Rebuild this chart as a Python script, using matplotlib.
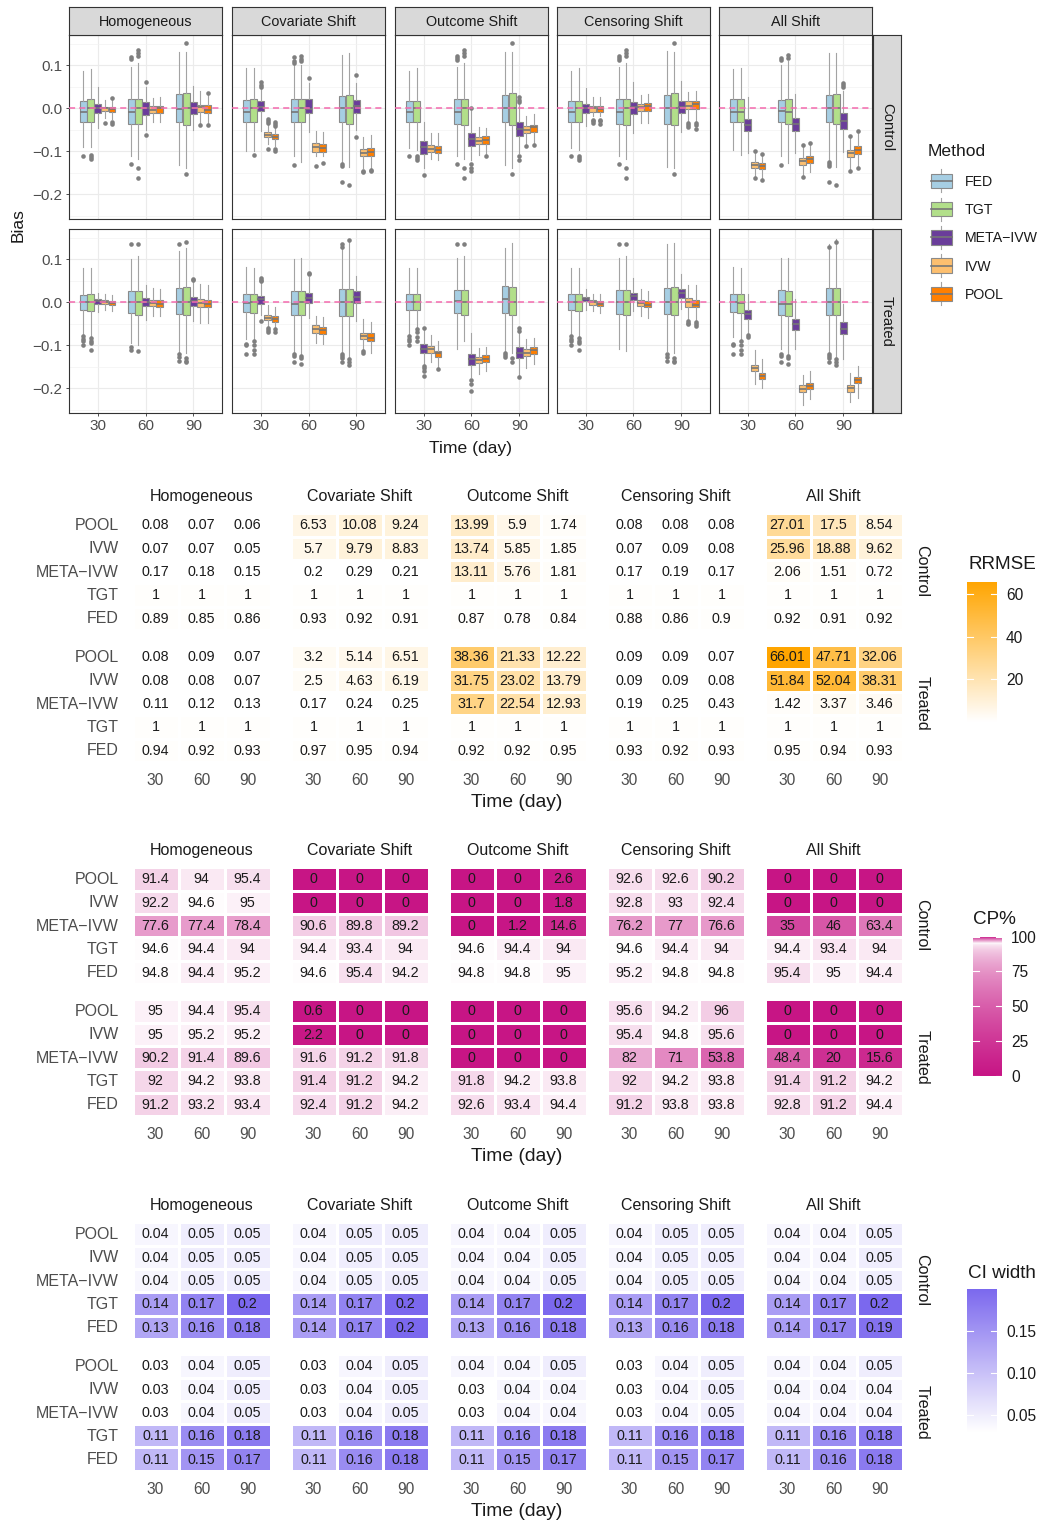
import numpy as np
import matplotlib
matplotlib.use("Agg")
import matplotlib.pyplot as plt
from matplotlib.colors import LinearSegmentedColormap, Normalize, to_rgb
from matplotlib.patches import Rectangle

plt.rcParams['font.family'] = ['Liberation Sans', 'DejaVu Sans']

# ---------------- categories ----------------
shifts = ["Homogeneous", "Covariate Shift", "Outcome Shift", "Censoring Shift", "All Shift"]
times = [30, 60, 90]
box_methods = ["FED", "TGT", "META\u2212IVW", "IVW", "POOL"]
heat_methods = ["POOL", "IVW", "META\u2212IVW", "TGT", "FED"]
groups = ["Control", "Treated"]

# ---------------- bias boxplot summaries: [time][method] -> (q1, median, q3, whisker_lo, whisker_hi)
bias_ctrl_homog = [
    [(-0.031, -0.008, 0.017, -0.091, 0.088), (-0.033, 0.0, 0.022, -0.090, 0.091), (-0.012, 0.0, 0.009, -0.046, 0.049), (-0.006, 0.0, 0.004, -0.022, 0.020), (-0.008, -0.002, 0.004, -0.025, 0.020)],
    [(-0.036, -0.008, 0.022, -0.112, 0.097), (-0.037, 0.0, 0.022, -0.119, 0.105), (-0.016, 0.0, 0.014, -0.050, 0.049), (-0.012, -0.004, 0.005, -0.033, 0.025), (-0.012, 0.0, 0.005, -0.033, 0.027)],
    [(-0.033, -0.002, 0.033, -0.133, 0.132), (-0.040, 0.0, 0.035, -0.140, 0.132), (-0.014, 0.0, 0.015, -0.050, 0.053), (-0.009, 0.002, 0.007, -0.036, 0.041), (-0.010, -0.005, 0.007, -0.036, 0.033)],
]
fl_ctrl_homog = [
    [[-0.111], [-0.108, -0.113, -0.118], [], [-0.034], [0.025, -0.033, -0.037]],
    [[0.114, 0.120, -0.129], [0.122, 0.130, 0.136, -0.140, -0.162], [0.062, -0.062], [], []],
    [[], [0.153, -0.152], [], [-0.038], [0.036, -0.038]],
]
bias_ctrl_cov = [
    [(-0.031, -0.008, 0.019, -0.100, 0.093), (-0.033, 0.0, 0.021, -0.100, 0.093), (-0.006, 0.004, 0.018, -0.052, 0.045), (-0.067, -0.062, -0.056, -0.083, -0.040), (-0.072, -0.066, -0.060, -0.088, -0.045)],
    [(-0.033, -0.008, 0.021, -0.110, 0.100), (-0.033, 0.0, 0.021, -0.126, 0.100), (-0.012, -0.002, 0.021, -0.054, 0.060), (-0.101, -0.091, -0.081, -0.112, -0.052), (-0.101, -0.092, -0.084, -0.112, -0.054)],
    [(-0.033, 0.0, 0.029, -0.124, 0.124), (-0.036, 0.0, 0.032, -0.136, 0.128), (-0.012, 0.005, 0.020, -0.050, 0.060), (-0.112, -0.103, -0.094, -0.140, -0.066), (-0.112, -0.102, -0.092, -0.140, -0.062)],
]
fl_ctrl_cov = [
    [[], [-0.109], [0.049, 0.055, 0.062], [-0.025, -0.030, -0.035, -0.095], [-0.033, -0.037, -0.041, -0.094, -0.100]],
    [[0.106, 0.110, 0.120, -0.132], [0.110, 0.116, 0.121], [0.070], [-0.134], [-0.128]],
    [[-0.130, -0.135, -0.171], [-0.178], [0.078, -0.066], [-0.145, -0.148], [-0.143, -0.147]],
]
bias_ctrl_out = [
    [(-0.033, -0.008, 0.017, -0.093, 0.088), (-0.033, 0.0, 0.017, -0.097, 0.093), (-0.106, -0.091, -0.076, -0.140, -0.031), (-0.102, -0.094, -0.085, -0.119, -0.058), (-0.105, -0.096, -0.088, -0.120, -0.058)],
    [(-0.036, -0.008, 0.022, -0.112, 0.097), (-0.038, 0.0, 0.022, -0.119, 0.105), (-0.087, -0.072, -0.057, -0.120, -0.005), (-0.084, -0.075, -0.066, -0.109, -0.043), (-0.083, -0.074, -0.064, -0.109, -0.045)],
    [(-0.033, 0.0, 0.031, -0.133, 0.132), (-0.040, 0.0, 0.035, -0.140, 0.132), (-0.064, -0.048, -0.033, -0.105, 0.010), (-0.058, -0.050, -0.041, -0.085, -0.019), (-0.056, -0.044, -0.039, -0.081, -0.013)],
]
fl_ctrl_out = [
    [[-0.110], [-0.110, -0.115, -0.120], [-0.155], [], []],
    [[0.113, 0.118, 0.122, -0.130], [0.122, 0.130, 0.136, -0.140, -0.162], [0.0, -0.130, -0.138, -0.145], [], [-0.112]],
    [[], [0.153, -0.152], [0.015, 0.020, 0.026, -0.110, -0.120], [-0.088], [-0.085]],
]
bias_ctrl_cens = [
    [(-0.032, -0.008, 0.017, -0.093, 0.088), (-0.032, 0.0, 0.017, -0.097, 0.093), (-0.012, 0.0, 0.010, -0.041, 0.047), (-0.009, 0.0, 0.005, -0.019, 0.026), (-0.009, -0.002, 0.005, -0.019, 0.026)],
    [(-0.036, -0.008, 0.022, -0.112, 0.097), (-0.038, 0.0, 0.022, -0.119, 0.105), (-0.013, 0.004, 0.014, -0.057, 0.062), (-0.006, 0.002, 0.010, -0.035, 0.031), (-0.006, 0.005, 0.012, -0.035, 0.033)],
    [(-0.036, 0.0, 0.031, -0.136, 0.134), (-0.040, 0.0, 0.035, -0.140, 0.132), (-0.012, 0.002, 0.016, -0.056, 0.064), (-0.002, 0.005, 0.016, -0.030, 0.039), (-0.002, 0.010, 0.017, -0.030, 0.041)],
]
fl_ctrl_cens = [
    [[-0.110], [-0.110, -0.115, -0.120], [], [-0.027, -0.030, -0.035], [-0.027, -0.030, -0.036]],
    [[0.113, 0.118, 0.122, -0.130], [0.122, 0.130, 0.136, -0.140, -0.162], [], [], []],
    [[], [0.153, -0.152], [], [-0.035, -0.038, -0.043], [-0.035, -0.040, -0.047]],
]
bias_ctrl_all = [
    [(-0.031, -0.008, 0.021, -0.098, 0.091), (-0.033, -0.008, 0.021, -0.109, 0.093), (-0.053, -0.039, -0.025, -0.105, 0.026), (-0.138, -0.132, -0.126, -0.158, -0.105), (-0.141, -0.134, -0.128, -0.163, -0.108)],
    [(-0.033, -0.006, 0.019, -0.111, 0.100), (-0.036, -0.008, 0.022, -0.128, 0.110), (-0.053, -0.037, -0.022, -0.103, 0.033), (-0.132, -0.123, -0.115, -0.155, -0.090), (-0.128, -0.119, -0.110, -0.149, -0.085)],
    [(-0.033, 0.0, 0.031, -0.120, 0.128), (-0.036, 0.0, 0.033, -0.136, 0.128), (-0.047, -0.029, -0.012, -0.101, 0.040), (-0.114, -0.105, -0.097, -0.143, -0.066), (-0.106, -0.096, -0.087, -0.137, -0.058)],
]
fl_ctrl_all = [
    [[], [], [], [-0.100, -0.163], [-0.106, -0.167]],
    [[0.112, 0.118, -0.132], [0.118, 0.124], [], [-0.085, -0.160], [-0.081]],
    [[-0.125, -0.130, -0.135, -0.171], [-0.178], [0.050, 0.055, 0.060], [-0.064, -0.146], [-0.053, -0.140]],
]

bias_trt_homog = [
    [(-0.019, 0.0, 0.017, -0.074, 0.081), (-0.020, 0.0, 0.019, -0.078, 0.081), (-0.005, 0.002, 0.008, -0.022, 0.022), (-0.005, 0.0, 0.005, -0.019, 0.019), (-0.007, -0.002, 0.003, -0.020, 0.017)],
    [(-0.026, 0.0, 0.026, -0.094, 0.102), (-0.029, 0.0, 0.026, -0.099, 0.109), (-0.009, 0.0, 0.009, -0.041, 0.040), (-0.009, -0.002, 0.005, -0.033, 0.034), (-0.010, -0.005, 0.005, -0.033, 0.032)],
    [(-0.028, 0.0, 0.034, -0.117, 0.119), (-0.029, 0.0, 0.036, -0.117, 0.127), (-0.009, 0.004, 0.012, -0.043, 0.050), (-0.010, -0.002, 0.007, -0.047, 0.042), (-0.011, -0.005, 0.005, -0.048, 0.040)],
]
fl_trt_homog = [
    [[-0.078, -0.085, -0.090, -0.100], [-0.083, -0.090, -0.095, -0.110], [], [], []],
    [[0.135, -0.105, -0.110], [0.136, -0.113], [], [], []],
    [[0.136, -0.121, -0.128, -0.136], [0.141, -0.130, -0.136, -0.140], [0.052, 0.055], [], []],
]
bias_trt_cov = [
    [(-0.022, -0.002, 0.019, -0.086, 0.083), (-0.024, 0.0, 0.020, -0.086, 0.081), (-0.005, 0.007, 0.015, -0.029, 0.045), (-0.041, -0.036, -0.029, -0.055, -0.006), (-0.045, -0.039, -0.033, -0.060, -0.010)],
    [(-0.029, -0.003, 0.026, -0.117, 0.100), (-0.029, 0.0, 0.026, -0.120, 0.104), (-0.001, 0.011, 0.022, -0.036, 0.060), (-0.071, -0.061, -0.053, -0.094, -0.032), (-0.073, -0.065, -0.057, -0.097, -0.035)],
    [(-0.032, 0.0, 0.032, -0.117, 0.127), (-0.032, 0.0, 0.032, -0.129, 0.140), (-0.002, 0.012, 0.026, -0.043, 0.061), (-0.086, -0.078, -0.071, -0.110, -0.038), (-0.090, -0.082, -0.072, -0.117, -0.045)],
]
fl_trt_cov = [
    [[-0.096, -0.100, -0.120], [-0.090, -0.100, -0.110, -0.120], [0.050, 0.053, 0.057, -0.043], [-0.059, -0.064, -0.068], [-0.063, -0.068]],
    [[-0.120, -0.125, -0.140], [-0.125, -0.130, -0.143], [0.065, 0.068], [], []],
    [[0.130, 0.135, -0.120, -0.125, -0.130, -0.140], [0.145, -0.133, -0.138, -0.145], [], [-0.113, -0.117], []],
]
bias_trt_out = [
    [(-0.019, 0.0, 0.019, -0.074, 0.081), (-0.019, 0.0, 0.019, -0.059, 0.081), (-0.117, -0.108, -0.098, -0.144, -0.063), (-0.117, -0.109, -0.102, -0.140, -0.077), (-0.127, -0.119, -0.113, -0.152, -0.090)],
    [(-0.026, 0.003, 0.028, -0.109, 0.104), (-0.029, 0.0, 0.028, -0.090, 0.108), (-0.146, -0.133, -0.121, -0.175, -0.071), (-0.142, -0.135, -0.127, -0.167, -0.107), (-0.139, -0.131, -0.123, -0.160, -0.103)],
    [(-0.024, 0.007, 0.038, -0.113, 0.127), (-0.029, 0.0, 0.036, -0.117, 0.139), (-0.129, -0.117, -0.103, -0.171, -0.063), (-0.126, -0.117, -0.108, -0.152, -0.086), (-0.121, -0.112, -0.104, -0.144, -0.082)],
]
fl_trt_out = [
    [[-0.078, -0.085, -0.090, -0.100], [-0.062, -0.070, -0.080, -0.090], [-0.060, -0.148, -0.152, -0.160, -0.171], [], [-0.155]],
    [[0.135], [0.135], [-0.182, -0.190, -0.206], [], []],
    [[-0.117, -0.122, -0.128], [-0.130, -0.138], [-0.059, -0.066, -0.173], [], []],
]
bias_trt_cens = [
    [(-0.019, 0.0, 0.019, -0.074, 0.081), (-0.020, 0.0, 0.019, -0.078, 0.081), (0.002, 0.007, 0.012, -0.019, 0.030), (-0.006, 0.0, 0.005, -0.020, 0.019), (-0.009, -0.003, 0.003, -0.024, 0.019)],
    [(-0.028, 0.0, 0.028, -0.109, 0.104), (-0.029, 0.0, 0.028, -0.113, 0.109), (0.005, 0.015, 0.022, -0.020, 0.057), (-0.009, -0.002, 0.006, -0.031, 0.030), (-0.012, -0.006, 0.003, -0.036, 0.026)],
    [(-0.028, 0.0, 0.034, -0.113, 0.136), (-0.029, 0.0, 0.036, -0.117, 0.139), (0.009, 0.022, 0.030, -0.016, 0.065), (-0.010, 0.0, 0.009, -0.040, 0.040), (-0.012, -0.006, 0.006, -0.043, 0.040)],
]
fl_trt_cens = [
    [[-0.078, -0.085, -0.090, -0.100], [-0.083, -0.090, -0.095, -0.110], [], [], []],
    [[0.135], [0.136], [], [], []],
    [[-0.121, -0.128, -0.136], [-0.130, -0.136, -0.140], [], [-0.043, -0.047, -0.050], [-0.046, -0.050, -0.055]],
]
bias_trt_all = [
    [(-0.022, 0.0, 0.019, -0.081, 0.083), (-0.024, -0.002, 0.019, -0.086, 0.081), (-0.038, -0.028, -0.018, -0.074, 0.019), (-0.161, -0.153, -0.146, -0.191, -0.112), (-0.179, -0.171, -0.165, -0.200, -0.133)],
    [(-0.029, -0.003, 0.028, -0.109, 0.104), (-0.032, -0.003, 0.026, -0.120, 0.104), (-0.064, -0.051, -0.040, -0.109, 0.007), (-0.210, -0.201, -0.193, -0.240, -0.169), (-0.202, -0.195, -0.187, -0.226, -0.160)],
    [(-0.029, 0.0, 0.033, -0.117, 0.135), (-0.029, 0.0, 0.034, -0.129, 0.147), (-0.074, -0.061, -0.046, -0.133, -0.005), (-0.208, -0.200, -0.192, -0.233, -0.164), (-0.189, -0.181, -0.174, -0.222, -0.148)],
]
fl_trt_all = [
    [[-0.096, -0.100, -0.120], [-0.090, -0.100, -0.110, -0.120], [-0.077, -0.080], [], []],
    [[-0.120, -0.125, -0.140], [-0.125, -0.130, -0.143], [], [], []],
    [[0.130, -0.120, -0.125, -0.130, -0.140], [0.140, -0.133, -0.138, -0.145], [], [], []],
]

bias_ctrl = [bias_ctrl_homog, bias_ctrl_cov, bias_ctrl_out, bias_ctrl_cens, bias_ctrl_all]
fl_ctrl = [fl_ctrl_homog, fl_ctrl_cov, fl_ctrl_out, fl_ctrl_cens, fl_ctrl_all]
bias_trt = [bias_trt_homog, bias_trt_cov, bias_trt_out, bias_trt_cens, bias_trt_all]
fl_trt = [fl_trt_homog, fl_trt_cov, fl_trt_out, fl_trt_cens, fl_trt_all]

# ---------------- heatmap tables: rows = heat_methods, cols = shift x time
rrmse_ctrl = [
    [0.08, 0.07, 0.06, 6.53, 10.08, 9.24, 13.99, 5.9, 1.74, 0.08, 0.08, 0.08, 27.01, 17.5, 8.54],
    [0.07, 0.07, 0.05, 5.7, 9.79, 8.83, 13.74, 5.85, 1.85, 0.07, 0.09, 0.08, 25.96, 18.88, 9.62],
    [0.17, 0.18, 0.15, 0.2, 0.29, 0.21, 13.11, 5.76, 1.81, 0.17, 0.19, 0.17, 2.06, 1.51, 0.72],
    [1, 1, 1, 1, 1, 1, 1, 1, 1, 1, 1, 1, 1, 1, 1],
    [0.89, 0.85, 0.86, 0.93, 0.92, 0.91, 0.87, 0.78, 0.84, 0.88, 0.86, 0.9, 0.92, 0.91, 0.92],
]
rrmse_trt = [
    [0.08, 0.09, 0.07, 3.2, 5.14, 6.51, 38.36, 21.33, 12.22, 0.09, 0.09, 0.07, 66.01, 47.71, 32.06],
    [0.08, 0.08, 0.07, 2.5, 4.63, 6.19, 31.75, 23.02, 13.79, 0.09, 0.09, 0.08, 51.84, 52.04, 38.31],
    [0.11, 0.12, 0.13, 0.17, 0.24, 0.25, 31.7, 22.54, 12.93, 0.19, 0.25, 0.43, 1.42, 3.37, 3.46],
    [1, 1, 1, 1, 1, 1, 1, 1, 1, 1, 1, 1, 1, 1, 1],
    [0.94, 0.92, 0.93, 0.97, 0.95, 0.94, 0.92, 0.92, 0.95, 0.93, 0.92, 0.93, 0.95, 0.94, 0.93],
]
cp_ctrl = [
    [91.4, 94, 95.4, 0, 0, 0, 0, 0, 2.6, 92.6, 92.6, 90.2, 0, 0, 0],
    [92.2, 94.6, 95, 0, 0, 0, 0, 0, 1.8, 92.8, 93, 92.4, 0, 0, 0],
    [77.6, 77.4, 78.4, 90.6, 89.8, 89.2, 0, 1.2, 14.6, 76.2, 77, 76.6, 35, 46, 63.4],
    [94.6, 94.4, 94, 94.4, 93.4, 94, 94.6, 94.4, 94, 94.6, 94.4, 94, 94.4, 93.4, 94],
    [94.8, 94.4, 95.2, 94.6, 95.4, 94.2, 94.8, 94.8, 95, 95.2, 94.8, 94.8, 95.4, 95, 94.4],
]
cp_trt = [
    [95, 94.4, 95.4, 0.6, 0, 0, 0, 0, 0, 95.6, 94.2, 96, 0, 0, 0],
    [95, 95.2, 95.2, 2.2, 0, 0, 0, 0, 0, 95.4, 94.8, 95.6, 0, 0, 0],
    [90.2, 91.4, 89.6, 91.6, 91.2, 91.8, 0, 0, 0, 82, 71, 53.8, 48.4, 20, 15.6],
    [92, 94.2, 93.8, 91.4, 91.2, 94.2, 91.8, 94.2, 93.8, 92, 94.2, 93.8, 91.4, 91.2, 94.2],
    [91.2, 93.2, 93.4, 92.4, 91.2, 94.2, 92.6, 93.4, 94.4, 91.2, 93.8, 93.8, 92.8, 91.2, 94.4],
]
ci_ctrl = [
    [0.04, 0.05, 0.05, 0.04, 0.05, 0.05, 0.04, 0.04, 0.05, 0.04, 0.05, 0.05, 0.04, 0.04, 0.05],
    [0.04, 0.05, 0.05, 0.04, 0.05, 0.05, 0.04, 0.04, 0.05, 0.04, 0.05, 0.05, 0.04, 0.04, 0.05],
    [0.04, 0.05, 0.05, 0.04, 0.05, 0.05, 0.04, 0.04, 0.05, 0.04, 0.05, 0.05, 0.04, 0.04, 0.05],
    [0.14, 0.17, 0.2, 0.14, 0.17, 0.2, 0.14, 0.17, 0.2, 0.14, 0.17, 0.2, 0.14, 0.17, 0.2],
    [0.13, 0.16, 0.18, 0.14, 0.17, 0.2, 0.13, 0.16, 0.18, 0.13, 0.16, 0.18, 0.14, 0.17, 0.19],
]
ci_trt = [
    [0.03, 0.04, 0.05, 0.03, 0.04, 0.05, 0.04, 0.04, 0.05, 0.03, 0.04, 0.05, 0.04, 0.04, 0.05],
    [0.03, 0.04, 0.05, 0.03, 0.04, 0.05, 0.03, 0.04, 0.04, 0.03, 0.04, 0.05, 0.04, 0.04, 0.04],
    [0.03, 0.04, 0.05, 0.03, 0.04, 0.05, 0.03, 0.04, 0.04, 0.03, 0.04, 0.05, 0.04, 0.04, 0.04],
    [0.11, 0.16, 0.18, 0.11, 0.16, 0.18, 0.11, 0.16, 0.18, 0.11, 0.16, 0.18, 0.11, 0.16, 0.18],
    [0.11, 0.15, 0.17, 0.11, 0.16, 0.18, 0.11, 0.15, 0.17, 0.11, 0.15, 0.17, 0.11, 0.16, 0.18],
]

# ---------------- figure helpers ----------------
W, H = 1042, 1523
fig = plt.figure(figsize=(W / 100, H / 100), dpi=100)
fig.patch.set_facecolor('white')
PT = 0.72  # points per pixel


def add_ax(x0, y0, x1, y1):
    return fig.add_axes([x0 / W, 1 - y1 / H, (x1 - x0) / W, (y1 - y0) / H])


def ftext(x, y, s, **kw):
    return fig.text(x / W, 1 - y / H, s, **kw)


# ---------------- boxplot section ----------------
box_colors = ["#A6CEE3", "#B2DF8A", "#6A3D9A", "#FDBF6F", "#FF7F00"]
offsets = [-0.3, -0.15, 0.0, 0.15, 0.3]
col_x0 = [69, 232, 395, 557, 719]
row_y0 = [35, 229]
PW, PH = 153, 184
YLIM = (-0.258, 0.171)

for r, (bstats, bfl) in enumerate([(bias_ctrl, fl_ctrl), (bias_trt, fl_trt)]):
    for c in range(5):
        ax = add_ax(col_x0[c], row_y0[r], col_x0[c] + PW, row_y0[r] + PH)
        ax.set_xlim(0.4, 3.6)
        ax.set_ylim(*YLIM)
        ax.set_xticks([1, 2, 3])
        ax.set_xticklabels([str(t) for t in times])
        ax.set_yticks([0.1, 0.0, -0.1, -0.2])
        ax.set_yticklabels(["0.1", "0.0", "\u22120.1", "\u22120.2"])
        ax.set_yticks([0.15, 0.05, -0.05, -0.15, -0.25], minor=True)
        ax.grid(True, which='major', color='#EBEBEB', lw=0.85)
        ax.grid(True, which='minor', axis='y', color='#F2F2F2', lw=0.45)
        ax.set_axisbelow(True)
        for sp in ax.spines.values():
            sp.set_color('#333333')
            sp.set_linewidth(0.8)
        ax.tick_params(which='minor', length=0)
        ax.tick_params(which='major', length=3 * PT, width=0.6, color='#333333',
                       labelsize=11, labelcolor='#4D4D4D', pad=2.5)
        if c > 0:
            ax.tick_params(axis='y', left=False, labelleft=False)
        if r == 0:
            ax.tick_params(axis='x', bottom=False, labelbottom=False)
        for ti in range(3):
            for mi in range(5):
                q1, med, q3, lo, hi = bstats[c][ti][mi]
                st = [dict(q1=q1, med=med, q3=q3, whislo=lo, whishi=hi, fliers=bfl[c][ti][mi])]
                ax.bxp(st, positions=[ti + 1 + offsets[mi]], widths=0.142, patch_artist=True,
                       showcaps=False, manage_ticks=False,
                       boxprops=dict(facecolor=box_colors[mi], edgecolor='#8A8A8A', linewidth=0.8),
                       whiskerprops=dict(color='#A3A3A3', linewidth=0.8),
                       medianprops=dict(color='#767676', linewidth=1.2),
                       flierprops=dict(marker='o', markersize=3.3, markerfacecolor='#7F7F7F',
                                       markeredgecolor='none'))
        ax.axhline(0, color='#F46AAE', lw=1.1, ls=(0, (4, 2.7)), zorder=6)

# strips
for c in range(5):
    sax = add_ax(col_x0[c], 7, col_x0[c] + PW, 34.5)
    sax.set_facecolor('#D9D9D9')
    sax.set_xticks([]); sax.set_yticks([])
    for sp in sax.spines.values():
        sp.set_color('#333333'); sp.set_linewidth(0.8)
    sax.text(0.5, 0.45, shifts[c], ha='center', va='center', fontsize=10.4,
             color='#1A1A1A', transform=sax.transAxes)
for r in range(2):
    sax = add_ax(873, row_y0[r], 901, row_y0[r] + PH)
    sax.set_facecolor('#D9D9D9')
    sax.set_xticks([]); sax.set_yticks([])
    for sp in sax.spines.values():
        sp.set_color('#333333'); sp.set_linewidth(0.8)
    sax.text(0.5, 0.5, groups[r], ha='center', va='center', rotation=-90, fontsize=10.7,
             color='#1A1A1A', transform=sax.transAxes)

ftext(18, 225, "Bias", rotation=90, ha='center', va='center', fontsize=12.5, color='#1A1A1A')
ftext(470.5, 453, "Time (day)", ha='center', va='baseline', fontsize=12.6, color='#1A1A1A')

# legend
ftext(928, 156, "Method", ha='left', va='baseline', fontsize=12.6, color='#1A1A1A')
lax = add_ax(925, 160, 1042, 310)
lax.set_xlim(925, 1042)
lax.set_ylim(310, 160)
lax.axis('off')
key_y = [180.8, 209.0, 237.3, 265.5, 293.8]
for mi in range(5):
    yc = key_y[mi]
    lax.plot([941.5, 941.5], [yc - 11.5, yc + 11.5], color='#A3A3A3', lw=0.8, zorder=1)
    lax.add_patch(Rectangle((931, yc - 7.3), 21, 14.6, facecolor=box_colors[mi],
                            edgecolor='#8A8A8A', lw=0.8, zorder=2))
    lax.plot([931, 952], [yc, yc], color='#767676', lw=1.2, zorder=3)
    lax.text(965, yc + 5.2, box_methods[mi], ha='left', va='baseline', fontsize=10.2, color='#1A1A1A')

# ---------------- heatmap sections ----------------
orange = np.array(to_rgb('#FFA500'))
white = np.array([1.0, 1.0, 1.0])
cmap_rrmse = LinearSegmentedColormap.from_list('rr', [white, orange])
cmap_ci = LinearSegmentedColormap.from_list('ci', [white, to_rgb('#7B68EE')])

magenta = np.array(to_rgb('#C71585'))
cp_nodes = np.array([0, 5, 10, 20, 30, 40, 50, 60, 70, 75, 80, 85, 88, 90, 92, 93, 94, 94.5, 95,
                     96, 97, 98, 99, 100], dtype=float)
cp_cols = []
for x in cp_nodes:
    f = np.sqrt((95 - x) / 95) if x < 95 else (x - 95) / 5
    cp_cols.append(tuple(white * (1 - f) + magenta * f))
cmap_cp = LinearSegmentedColormap.from_list('cp', list(zip(cp_nodes / 100, cp_cols)))


def heat_section(top, ctrl, trt, cmap, norm):
    for g, mat in enumerate([ctrl, trt]):
        ytop = top + 132 * g
        arr = np.array(mat, dtype=float)
        for k in range(5):
            x0 = 132.5 + 158 * k
            ax = add_ax(x0, ytop, x0 + 138, ytop + 116.5)
            sub = arr[:, 3 * k:3 * k + 3]
            ax.pcolormesh(np.arange(0.5, 4.0, 1.0), np.arange(0.5, 6.0, 1.0), sub,
                          cmap=cmap, norm=norm, edgecolors='white', linewidth=0.8)
            ax.set_xlim(0.5, 3.5)
            ax.set_ylim(5.5, 0.5)
            ax.axis('off')
            for i in range(5):
                for j in range(3):
                    ax.text(j + 1, i + 1 + 0.19, f"{sub[i, j]:g}", ha='center', va='baseline',
                            fontsize=10.3, color='#1A1A1A')
        for i in range(5):
            ftext(118.5, ytop + 23.3 * i + 16.7, heat_methods[i], ha='right', va='baseline',
                  fontsize=11.5, color='#4D4D4D')
        ftext(922, ytop + 58, groups[g], rotation=-90, ha='center', va='center',
              fontsize=11.6, color='#1A1A1A')
    for k in range(5):
        x0 = 132.5 + 158 * k
        ftext(x0 + 69, top - 12.5, shifts[k], ha='center', va='baseline', fontsize=11.5,
              color='#1A1A1A')
        for j in range(3):
            ftext(x0 + 23 + 46 * j, top + 271.7, str(times[j]), ha='center', va='baseline',
                  fontsize=11.2, color='#4D4D4D')
    ftext(517, top + 293.4, "Time (day)", ha='center', va='baseline', fontsize=13.9,
          color='#1A1A1A')


def colorbar(x0, x1, y0, y1, cmap, vmin, vmax, ticks, labels, title, tx, ty):
    ax = add_ax(x0, y0, x1, y1)
    grad = np.linspace(vmin, vmax, 400).reshape(-1, 1)
    ax.imshow(grad, cmap=cmap, norm=Normalize(vmin, vmax), aspect='auto', origin='lower',
              extent=(0, 1, vmin, vmax), interpolation='bilinear')
    ax.set_xlim(0, 1)
    ax.set_ylim(vmin, vmax)
    for t in ticks:
        ax.plot([0, 0.2], [t, t], color='white', lw=0.8)
        ax.plot([0.8, 1], [t, t], color='white', lw=0.8)
    ax.set_xticks([])
    ax.set_yticks(ticks)
    ax.set_yticklabels(labels)
    ax.yaxis.tick_right()
    ax.tick_params(axis='y', length=0, pad=6.5, labelsize=11.2, labelcolor='#1A1A1A')
    for sp in ax.spines.values():
        sp.set_visible(False)
    ftext(tx, ty, title, ha='left', va='baseline', fontsize=13.6, color='#1A1A1A')


rr_min = min(min(r) for r in rrmse_ctrl + rrmse_trt)
rr_max = max(max(r) for r in rrmse_ctrl + rrmse_trt)
ci_min = min(min(r) for r in ci_ctrl + ci_trt)
ci_max = max(max(r) for r in ci_ctrl + ci_trt)

heat_section(513.3, rrmse_ctrl, rrmse_trt, cmap_rrmse, Normalize(rr_min, rr_max))
heat_section(867.3, cp_ctrl, cp_trt, cmap_cp, Normalize(0, 100))
heat_section(1222.3, ci_ctrl, ci_trt, cmap_ci, Normalize(ci_min, ci_max))

colorbar(967, 997, 581.5, 721.7, cmap_rrmse, rr_min, rr_max, [20, 40, 60], ["20", "40", "60"],
         "RRMSE", 968, 569.3)
colorbar(973, 1002, 936.7, 1075.7, cmap_cp, 0, 100, [0, 25, 50, 75, 100],
         ["0", "25", "50", "75", "100"], "CP%", 973, 924.3)
colorbar(967, 997, 1288.5, 1431.9, cmap_ci, ci_min, ci_max, [0.05, 0.10, 0.15],
         ["0.05", "0.10", "0.15"], "CI width", 968, 1278.3)

fig.savefig("out.png", dpi=100)
